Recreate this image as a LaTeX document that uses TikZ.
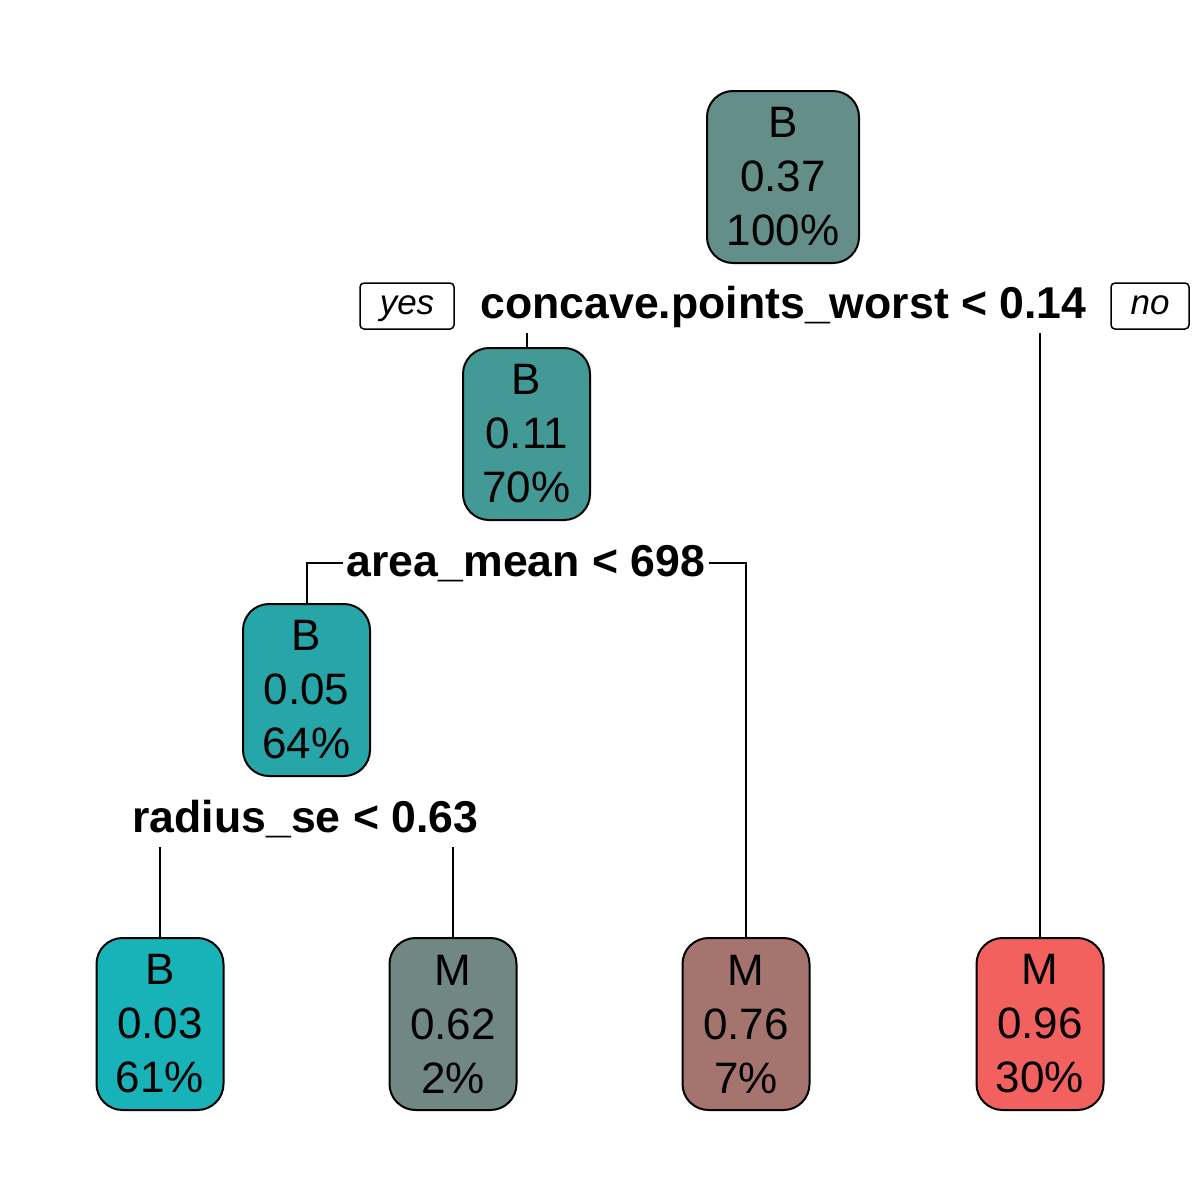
\documentclass[tikz,border=0pt]{standalone}
\usepackage{fontspec}
\setmainfont{Liberation Sans}
\definecolor{cRoot}{HTML}{638E89}
\definecolor{cTwo}{HTML}{429996}
\definecolor{cFour}{HTML}{26A6A9}
\definecolor{cLa}{HTML}{17B3B8}
\definecolor{cLb}{HTML}{718783}
\definecolor{cLc}{HTML}{A6746F}
\definecolor{cLd}{HTML}{F3615E}
\tikzset{
  treenode/.style={draw=black, line width=2pt, rounded corners=26pt,
    minimum width=127pt, minimum height=172pt, inner sep=0pt,
    align=center, font=\fontsize{44}{54}\selectfont},
  wide/.style={minimum width=152pt},
  splitlabel/.style={anchor=base, inner sep=0pt, font=\fontsize{44.6}{54}\selectfont\bfseries},
  dirbox/.style={draw=black, line width=1.5pt, rounded corners=4pt, minimum height=46pt,
    inner sep=0pt, text height=23pt, text depth=7pt, font=\fontsize{35}{40}\selectfont\itshape},
  edge/.style={line width=2pt}
}
\begin{document}
\begin{tikzpicture}[x=1pt,y=-1pt]
\useasboundingbox[fill=white] (0,0) rectangle (1200,1200);
% nodes
\node[treenode, wide, fill=cRoot] (root) at (783,177) {B\\0.37\\100\%};
\node[treenode, fill=cTwo] (n2) at (526.5,434) {B\\0.11\\70\%};
\node[treenode, fill=cFour] (n4) at (306.5,690) {B\\0.05\\64\%};
\node[treenode, fill=cLa] (l1) at (160,1024) {B\\0.03\\61\%};
\node[treenode, fill=cLb] (l2) at (453,1024) {M\\0.62\\2\%};
\node[treenode, fill=cLc] (l3) at (746,1024) {M\\0.76\\7\%};
\node[treenode, fill=cLd] (l4) at (1040,1024) {M\\0.96\\30\%};
% split labels
\node[splitlabel] (s1) at (783.5,318) {concave.points\_worst < 0.14};
\node[splitlabel] (s2) at (526,576) {area\_mean < 698};
\node[splitlabel] (s3) at (305.5,832) {radius\_se < 0.63};
\node[dirbox, minimum width=94pt] (yes) at (407,306) {yes};
\node[dirbox, minimum width=78pt] (no) at (1150,306) {no};
% connector end points
\coordinate (y1) at (526.5,333);
\coordinate (y2) at (1040,333);
\coordinate (a1) at (343,563);
\coordinate (a2) at (709,563);
\coordinate (r1) at (160,847);
\coordinate (r2) at (453,847);
% connectors
\draw[edge] (y1) -- (n2.north);
\draw[edge] (y2) -- (l4.north);
\draw[edge] (a1) -| (n4.north);
\draw[edge] (a2) -| (l3.north);
\draw[edge] (r1) -- (l1.north);
\draw[edge] (r2) -- (l2.north);
\end{tikzpicture}
\end{document}
